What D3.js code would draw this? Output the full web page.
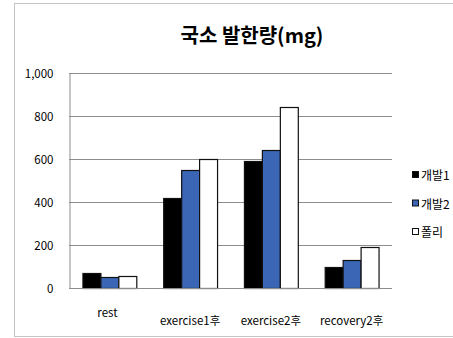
<!DOCTYPE html>
<html>
<head>
<meta charset="utf-8">
<script src="https://cdn.jsdelivr.net/npm/d3@7"></script>
<style>
  html, body { margin: 0; padding: 0; background: #fff; }
  svg { display: block; font-family: "Noto Sans CJK KR", "Noto Sans", sans-serif; }
</style>
</head>
<body>
<svg id="chart" width="453" height="338"></svg>
<script>
// Sweat output by phase, for three fabrics
const categories = ["rest", "exercise1후", "exercise2후", "recovery2후"];
const seriesNames = ["개발1", "개발2", "폴리"];
const dev1 = [70, 420, 590, 100];
const dev2 = [50, 550, 640, 130];
const poly = [57, 600, 840, 190];
const yTicks = [0, 200, 400, 600, 800, 1000];
const titleText = "국소 발한량(mg)";

const seriesValues = [dev1, dev2, poly];
const fills = ["#000000", "#3a66b5", "#ffffff"];

const svg = d3.select("#chart");

// outer chart frame
svg.append("rect")
  .attr("x", 14.5).attr("y", 3.5)
  .attr("width", 460).attr("height", 333)
  .attr("fill", "none").attr("stroke", "#c4c4c4").attr("stroke-width", 1);

const plot = { left: 69, right: 392, top: 73, bottom: 288 };

const x0 = d3.scaleBand().domain(categories)
  .range([plot.left, plot.right]).paddingInner(0.333).paddingOuter(0.1665);
const x1 = d3.scaleBand().domain(d3.range(seriesNames.length))
  .range([0, x0.bandwidth()]);
const y = d3.scaleLinear().domain([0, 1000]).range([plot.bottom, plot.top]);

// gridlines
svg.append("g").selectAll("line").data(yTicks.filter(d => d > 0)).join("line")
  .attr("x1", plot.left).attr("x2", plot.right)
  .attr("y1", d => Math.round(y(d)) + 0.5).attr("y2", d => Math.round(y(d)) + 0.5)
  .attr("stroke", "#8c8c8c").attr("stroke-width", 1);

// y axis
const yAxis = d3.axisLeft(y).tickValues(yTicks).tickSize(0).tickPadding(16)
  .tickFormat(d3.format(","));
const gy = svg.append("g").attr("transform", `translate(${plot.left + 0.5},0.5)`).call(yAxis);
gy.select(".domain").attr("stroke", "#8c8c8c");
gy.selectAll("text").attr("font-size", 11.5).attr("fill", "#000")
  .attr("font-family", "'Noto Sans CJK KR', sans-serif");

// bars
const groups = svg.append("g").selectAll("g").data(categories).join("g")
  .attr("transform", c => `translate(${x0(c)},0)`);
groups.selectAll("rect")
  .data((c, i) => seriesValues.map((s, k) => ({ k, v: s[i] })))
  .join("rect")
  .attr("x", d => x1(d.k) + 0.5)
  .attr("y", d => Math.round(y(d.v)) + 0.5)
  .attr("width", x1.bandwidth())
  .attr("height", d => plot.bottom - Math.round(y(d.v)))
  .attr("fill", d => fills[d.k])
  .attr("stroke", "#111").attr("stroke-width", 1.2);

// x axis baseline
svg.append("line")
  .attr("x1", plot.left).attr("x2", plot.right)
  .attr("y1", plot.bottom + 0.5).attr("y2", plot.bottom + 0.5)
  .attr("stroke", "#8c8c8c");

// x axis labels (the first one sits a little higher than the rest)
const xAxis = d3.axisBottom(x0).tickSize(0).tickPadding(21);
const gx = svg.append("g").attr("transform", `translate(0,${plot.bottom})`).call(xAxis);
gx.select(".domain").remove();
gx.selectAll("text").attr("font-size", 11.5).attr("fill", "#000")
  .attr("font-family", "'Noto Sans CJK KR', sans-serif")
  .attr("transform", (d, i) => i === 0 ? "translate(-2,0)" : "translate(0,8)");

// title
svg.append("text")
  .attr("x", 252).attr("y", 43)
  .attr("text-anchor", "middle")
  .attr("font-size", 20).attr("font-weight", "bold")
  .text(titleText);

// legend
const legend = svg.append("g").selectAll("g").data(seriesNames).join("g")
  .attr("transform", (d, i) => `translate(412,${171 + i * 28.5})`);
legend.append("rect")
  .attr("x", 0.5).attr("y", 0.5).attr("width", 6).attr("height", 6)
  .attr("fill", (d, i) => fills[i]).attr("stroke", "#111").attr("stroke-width", 1);
legend.append("text")
  .attr("x", 9).attr("y", 9)
  .attr("font-size", 12)
  .text(d => d);
</script>
</body>
</html>
